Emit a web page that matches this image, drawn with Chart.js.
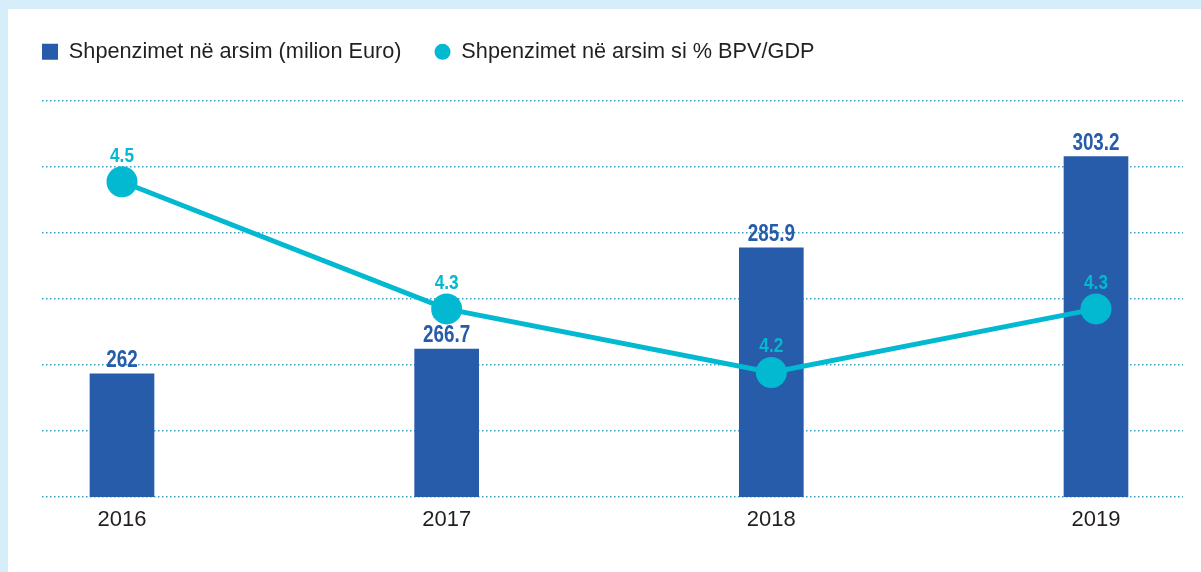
<!DOCTYPE html>
<html>
<head>
<meta charset="utf-8">
<script src="https://cdn.jsdelivr.net/npm/chart.js@4"></script>
<style>
  html, body { margin: 0; padding: 0; background: #d6eefa; overflow: hidden; }
  .panel { position: absolute; left: 8px; top: 9px; width: 1193px; height: 563px; background: #fff; }
  #chart { position: absolute; left: 0; top: 0; }
</style>
</head>
<body>
<div class="panel"></div>
<canvas id="chart" width="1201" height="572"></canvas>
<script>
// te dhenat
const years = [2016, 2017, 2018, 2019];
const spending = [262, 266.7, 285.9, 303.2];      // milion Euro
const gdpShare = [4.5, 4.3, 4.2, 4.3];            // % BPV/GDP
const spendingLabels = ['262', '266.7', '285.9', '303.2'];
const gdpLabels = ['4.5', '4.3', '4.2', '4.3'];

const barBlue = '#265ca9';
const cyan = '#03b9d1';

// vlerat mbi shtyllat dhe pikat (shkronja e ngushtuar)
function narrowText(ctx, text, x, y) {
    ctx.save();
    ctx.translate(x, y);
    ctx.scale(0.82, 1);
    ctx.fillText(text, 0, 0);
    ctx.restore();
}

const valueLabels = {
    id: 'valueLabels',
    afterDatasetsDraw(chart) {
        const ctx = chart.ctx;
        ctx.save();
        ctx.textAlign = 'center';
        ctx.textBaseline = 'alphabetic';

        ctx.fillStyle = barBlue;
        ctx.font = 'bold 23px "Liberation Sans"';
        chart.getDatasetMeta(0).data.forEach((bar, i) => {
            narrowText(ctx, spendingLabels[i], bar.x, bar.y - 7);
        });

        ctx.fillStyle = cyan;
        ctx.font = 'bold 21px "Liberation Sans"';
        chart.getDatasetMeta(1).data.forEach((pt, i) => {
            narrowText(ctx, gdpLabels[i], pt.x, pt.y - 20);
        });
        ctx.restore();
    }
};

const ctx = document.getElementById('chart').getContext('2d');
const chart = new Chart(ctx, {
    type: 'bar',
    data: {
        datasets: [{
            type: 'bar',
            label: 'Shpenzimet në arsim (milion Euro)',
            data: years.map((y, i) => ({ x: y, y: spending[i] })),
            backgroundColor: barBlue,
            borderWidth: 0,
            barThickness: 64,
            xAxisID: 'x',
            yAxisID: 'yBar',
            order: 1
        }, {
            type: 'line',
            label: 'Shpenzimet në arsim si % BPV/GDP',
            data: years.map((y, i) => ({ x: y, y: gdpShare[i] })),
            borderColor: cyan,
            backgroundColor: cyan,
            borderWidth: 5,
            pointRadius: 15.5,
            pointBackgroundColor: cyan,
            pointBorderWidth: 0,
            tension: 0,
            xAxisID: 'x',
            yAxisID: 'yLine',
            order: 0
        }]
    },
    options: {
        responsive: false,
        animation: false,
        layout: { padding: { left: 9, right: 18, top: 8, bottom: 0 } },
        plugins: {
            legend: {
                position: 'top',
                align: 'start',
                labels: {
                    boxWidth: 16,
                    boxHeight: 16,
                    padding: 33,
                    color: '#231f20',
                    font: { family: 'Liberation Sans', size: 21.7 },
                    useBorderRadius: true,
                    sort: (a, b) => a.datasetIndex - b.datasetIndex,
                    generateLabels(chart) {
                        const items = Chart.defaults.plugins.legend.labels.generateLabels(chart);
                        items.forEach(it => {
                            it.lineWidth = 0;
                            it.borderRadius = it.datasetIndex === 1 ? 8 : 0;
                        });
                        return items;
                    }
                }
            },
            tooltip: { enabled: false }
        },
        scales: {
            x: {
                type: 'linear',
                offset: false,
                min: 2015.7536,
                max: 2019.268,
                grid: { display: false },
                border: { display: false },
                afterBuildTicks: s => { s.ticks = years.map(v => ({ value: v })); },
                afterFit: s => { s.height = 75; },
                ticks: {
                    color: '#231f20',
                    font: { family: 'Liberation Sans', size: 22 },
                    padding: 2,
                    callback: v => String(v)
                }
            },
            // hapesire bosh mes legjendes dhe grafikut
            xTop: {
                type: 'linear',
                axis: 'x',
                position: 'top',
                ticks: { display: false },
                grid: { display: false },
                border: { display: false },
                afterFit: s => { s.height = 28; }
            },
            grid: {
                axis: 'y',
                type: 'linear',
                position: 'left',
                min: 0,
                max: 6,
                ticks: { display: false, stepSize: 1 },
                grid: { color: '#3aa0c8', lineWidth: 1.5, drawTicks: false },
                border: { display: false, dash: [1.5, 2.5] },
                afterFit: s => { s.width = 33; }
            },
            yBar: { type: 'linear', display: false, min: 238.65, max: 313.8 },
            yLine: { type: 'linear', display: false, min: 4.004, max: 4.6276 }
        }
    },
    plugins: [valueLabels]
});
</script>
</body>
</html>
